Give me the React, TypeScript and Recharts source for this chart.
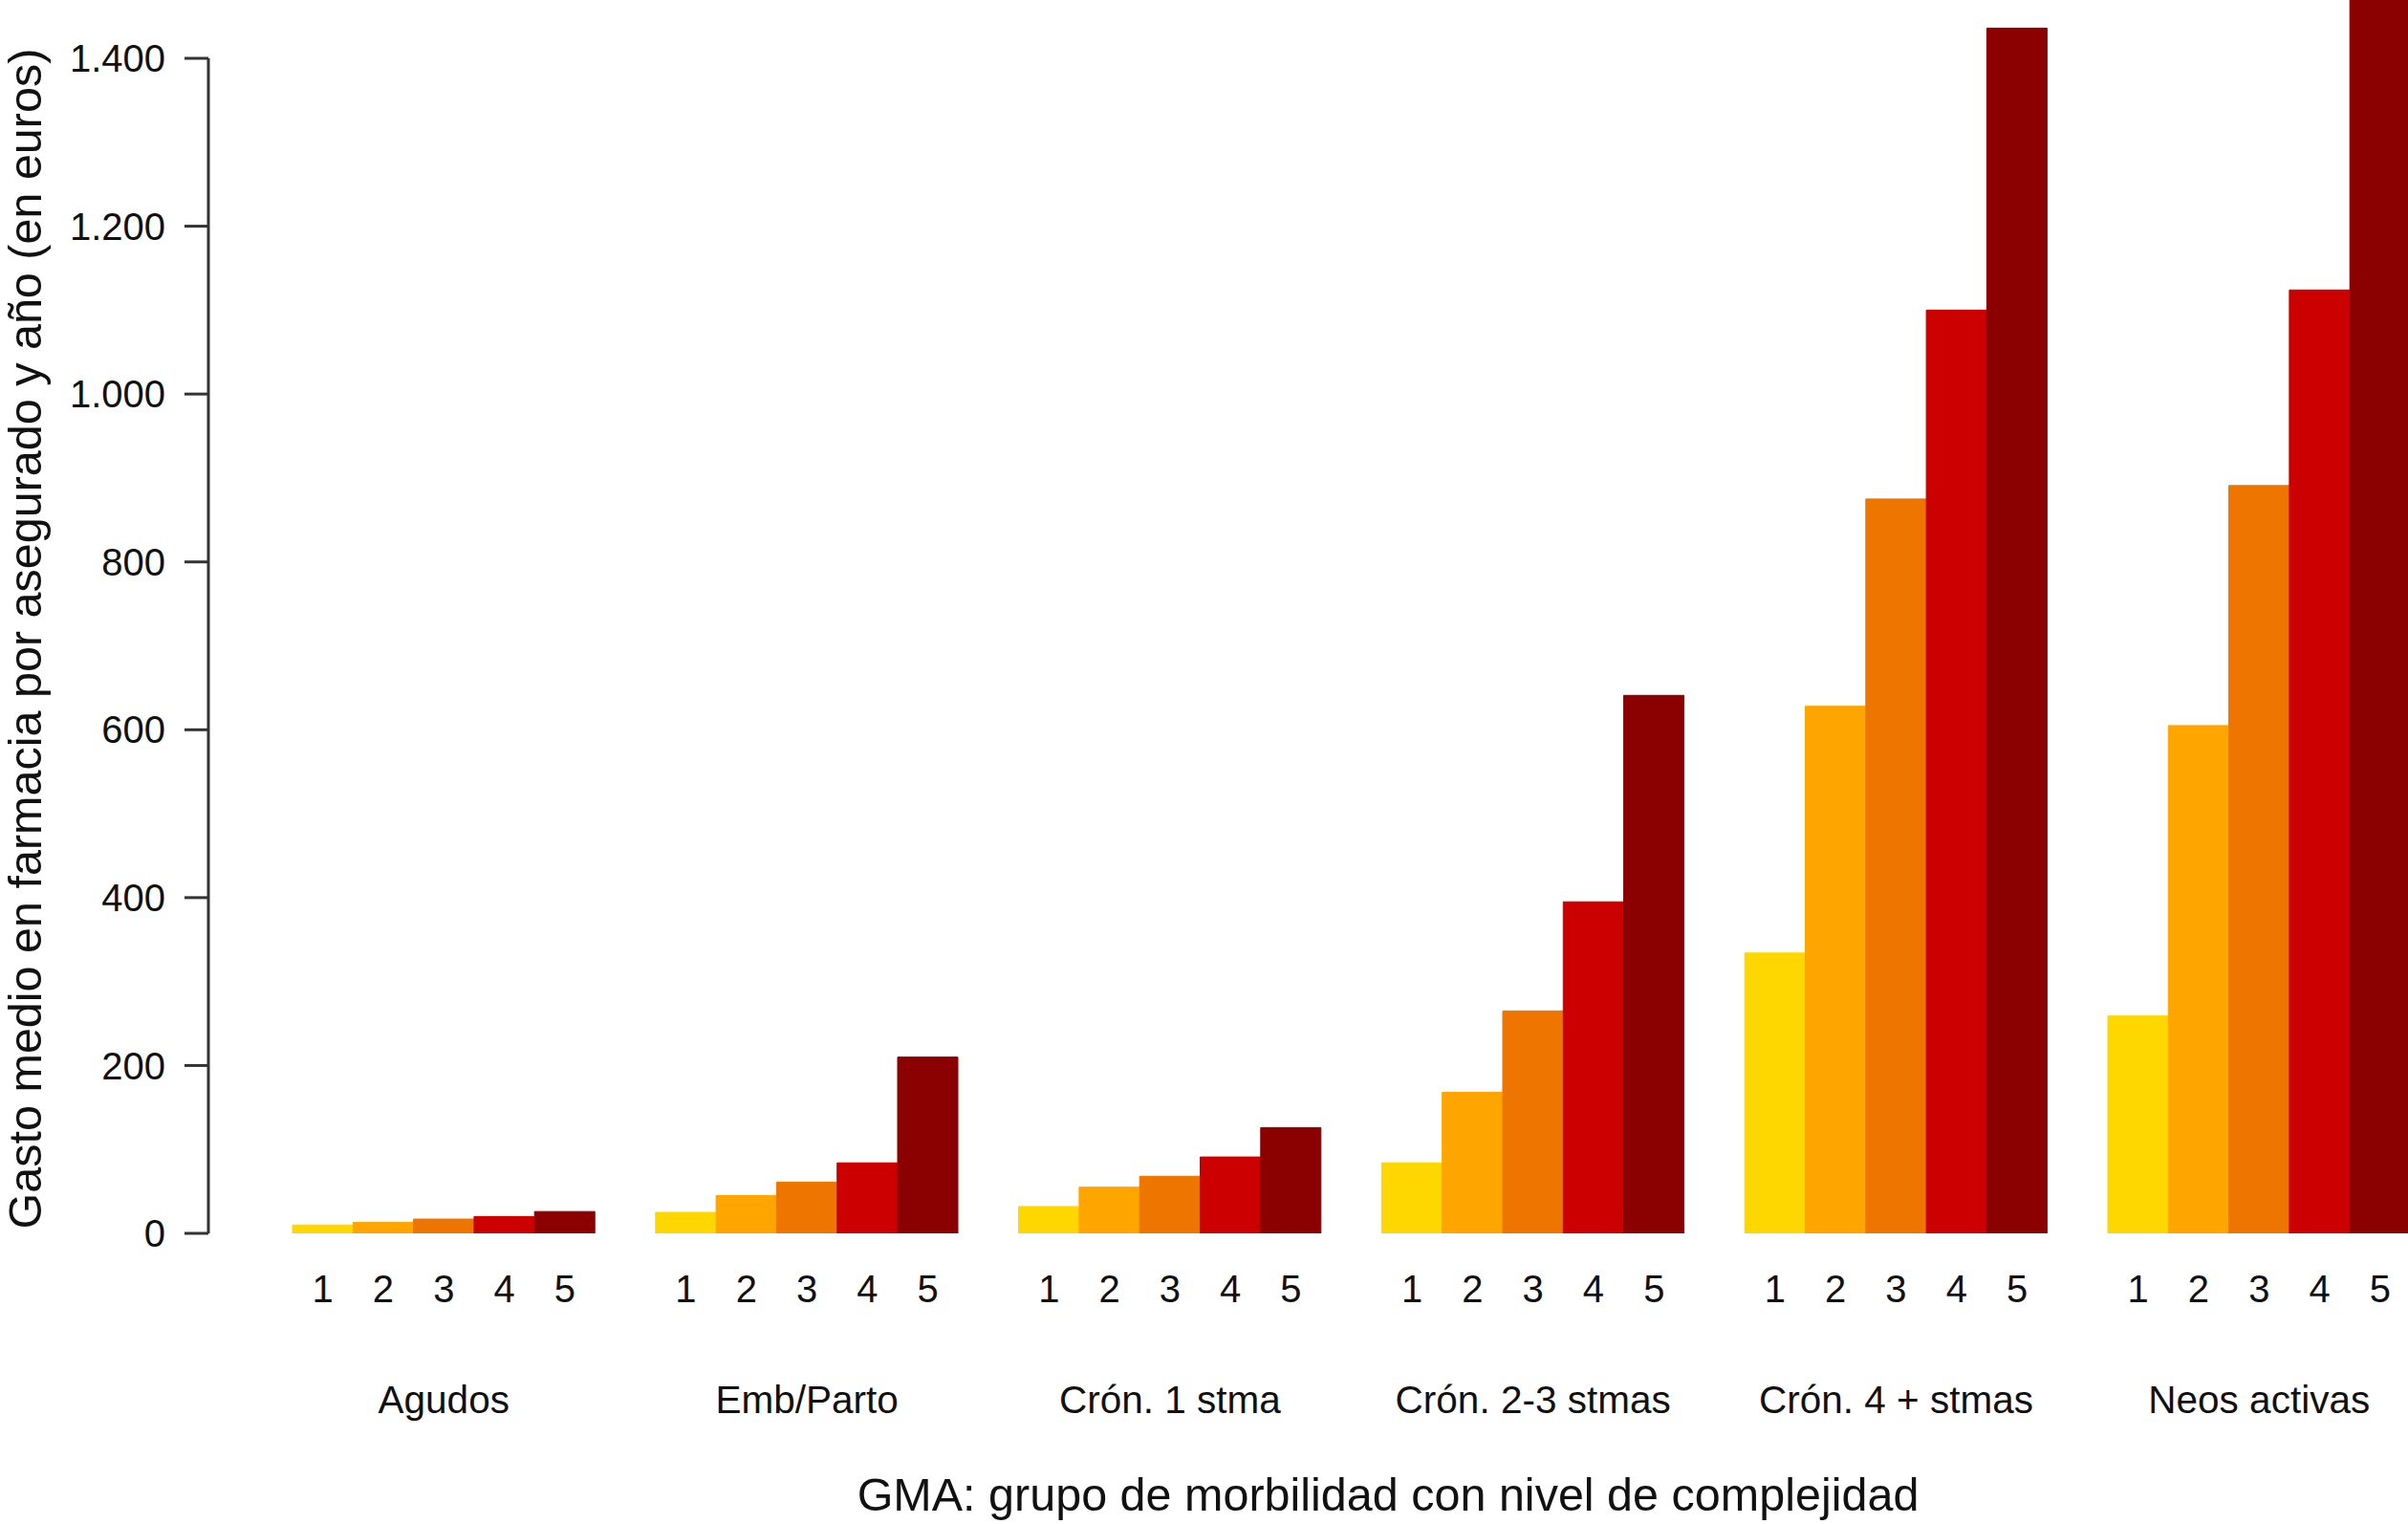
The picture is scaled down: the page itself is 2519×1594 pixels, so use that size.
import React from "react";
import { BarChart, Bar, XAxis, YAxis, Cell, ReferenceLine } from "recharts";

// ---- data ----
const groups = ["Agudos", "Emb/Parto", "Crón. 1 stma", "Crón. 2-3 stmas", "Crón. 4 + stmas", "Neos activas"];
const levels = ["1", "2", "3", "4", "5"];
const nivel1 = [10, 25, 32, 84, 334, 259];
const nivel2 = [13, 45, 55, 168, 628, 605];
const nivel3 = [17, 61, 68, 265, 875, 891];
const nivel4 = [20, 84, 91, 395, 1100, 1124];
const nivel5 = [26, 210, 126, 641, 1436, 1650];
const yTicks = [0, 200, 400, 600, 800, 1000, 1200, 1400];
const levelColors = ["#FFD700", "#FFA500", "#EE7600", "#CD0000", "#8B0000"];

const Y_TITLE = "Gasto medio en farmacia por asegurado y año (en euros)";
const X_TITLE = "GMA: grupo de morbilidad con nivel de complejidad";

// ---- table built from the arrays ----
const series = [nivel1, nivel2, nivel3, nivel4, nivel5];
type Row = { key: string; value: number | null; level: string; group: string; mid: boolean; color: string };
const rows: Row[] = [];
groups.forEach((g, gi) => {
  if (gi > 0) rows.push({ key: "gap" + gi, value: null, level: "", group: "", mid: false, color: "#fff" });
  levels.forEach((lv, li) => {
    rows.push({ key: gi + "-" + lv, value: series[li][gi], level: lv, group: g, mid: li === 2, color: levelColors[li] });
  });
});
const rowByKey: Record<string, Row> = {};
rows.forEach((r) => (rowByKey[r.key] = r));

// ---- layout ----
const FONT = "'Liberation Sans', Arial, Helvetica, sans-serif";
const CHART_W = 2730;
const CHART_H = 1594;
const Y_TOP = 1469.5;
const AXIS_COLOR = "#333";
const TEXT_COLOR = "#111";

const fmt = (v: number) => String(v).replace(/\B(?=(\d{3})+(?!\d))/g, ".");

function XTick(props: any) {
  const { x, y, payload } = props;
  const row = rowByKey[payload?.value];
  if (!row) return null;
  return (
    <g>
      <text x={x} y={y + 72} textAnchor="middle" fontSize={40} fontFamily={FONT} fill={TEXT_COLOR}>
        {row.level}
      </text>
      {row.mid ? (
        <text x={x} y={y + 188} textAnchor="middle" fontSize={40.5} fontFamily={FONT} fill={TEXT_COLOR}>
          {row.group}
        </text>
      ) : null}
    </g>
  );
}

function YTitle() {
  return (
    <text transform="rotate(-90)" x={-668} y={43} textAnchor="middle" fontSize={48.5} fontFamily={FONT} fill={TEXT_COLOR}>
      {Y_TITLE}
    </text>
  );
}

function XTitle() {
  return (
    <text x={1452} y={1580} textAnchor="middle" fontSize={48.5} fontFamily={FONT} fill={TEXT_COLOR}>
      {X_TITLE}
    </text>
  );
}

export default function App() {
  return (
    <div
      style={{
        position: "absolute",
        left: 0,
        top: 0,
        width: 2519,
        height: 1594,
        overflow: "hidden",
        background: "#fff",
      }}
    >
      <BarChart
        width={CHART_W}
        height={CHART_H}
        data={rows}
        margin={{ top: 0, right: 20, bottom: 0, left: 0 }}
        barCategoryGap={0}
        barGap={0}
      >
        <XAxis
          dataKey="key"
          type="category"
          interval={0}
          height={304}
          padding={{ left: 88, right: 188.5 }}
          axisLine={false}
          tickLine={false}
          tickSize={0}
          tickMargin={0}
          tick={<XTick />}
          label={<XTitle />}
        />
        <XAxis xAxisId="axisline" type="number" domain={[0, 1]} allowDataOverflow hide />
        <YAxis
          type="number"
          domain={[0, Y_TOP]}
          allowDataOverflow
          ticks={yTicks}
          interval={0}
          width={218}
          axisLine={false}
          tickLine={{ stroke: AXIS_COLOR, strokeWidth: 3 }}
          tickSize={25}
          tickMargin={20}
          tickFormatter={fmt}
          tick={{ fontSize: 40, fontFamily: FONT, fill: TEXT_COLOR }}
          label={<YTitle />}
        />
        <ReferenceLine
          xAxisId="axisline"
          segment={[
            { x: 0, y: 0 },
            { x: 0, y: 1400 },
          ]}
          stroke={AXIS_COLOR}
          strokeWidth={3}
        />
        <Bar dataKey="value" isAnimationActive={false}>
          {rows.map((r) => (
            <Cell key={r.key} fill={r.color} stroke={r.color} strokeWidth={1} />
          ))}
        </Bar>
      </BarChart>
    </div>
  );
}
